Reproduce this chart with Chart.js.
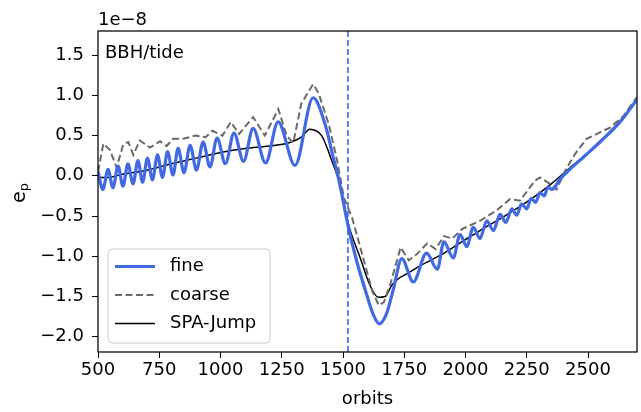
<!DOCTYPE html>
<html>
<head>
<meta charset="utf-8">
<script src="https://cdn.jsdelivr.net/npm/chart.js@4/dist/chart.umd.min.js"></script>
<style>
  html, body { margin: 0; padding: 0; background: #fff; }
  #chart { display: block; }
</style>
</head>
<body>
<canvas id="chart" width="641" height="412"></canvas>
<script>
// values, e_p in units of 1e-8
const fineOrbits = [500, 520, 541, 561, 582, 602, 622, 643, 663, 682, 702, 722, 743, 763, 784, 806, 827, 851, 876, 902,
    929, 957, 986, 1020, 1055, 1094, 1133, 1184, 1235, 1304, 1378, 1427, 1460, 1481, 1522, 1555, 1596, 1623, 1648, 1677,
    1704, 1740, 1787, 1841, 1885, 1912, 1950, 1978, 2005, 2032, 2059, 2087, 2114, 2141, 2165, 2189, 2209, 2229, 2250, 2268,
    2286, 2304, 2321, 2337, 2353, 2386, 2426, 2488, 2549, 2631, 2700];
const fineEp = [0.05, -0.17, 0.08, -0.15, 0.12, -0.13, 0.15, -0.10, 0.19, -0.08, 0.22, -0.05, 0.26, -0.02, 0.30, 0.01, 0.34, 0.04, 0.38, 0.07,
    0.42, 0.11, 0.47, 0.15, 0.53, 0.18, 0.59, 0.16, 0.67, 0.13, 0.97, 0.64, 0.23, -0.02, -0.64, -1.05, -1.47, -1.72, -1.84, -1.72,
    -1.43, -1.03, -1.32, -0.96, -1.16, -0.82, -1.02, -0.73, -0.88, -0.64, -0.78, -0.56, -0.68, -0.48, -0.58, -0.41, -0.49, -0.35, -0.41, -0.28,
    -0.33, -0.21, -0.25, -0.14, -0.17, -0.04, 0.08, 0.25, 0.42, 0.67, 0.95];

const coarseOrbits = [500, 522, 549, 576, 603, 624, 644, 671, 712, 753, 780, 807, 848, 898, 939, 967, 1008, 1042, 1076, 1133,
    1181, 1236, 1270, 1297, 1330, 1378, 1400, 1442, 1476, 1503, 1537, 1585, 1619, 1646, 1667, 1694, 1735, 1769, 1803, 1844,
    1878, 1912, 1946, 1987, 2059, 2127, 2181, 2222, 2284, 2304, 2345, 2372, 2406, 2447, 2494, 2549, 2590, 2644, 2700];
const coarseEp = [0.05, 0.40, 0.32, 0.10, 0.39, 0.42, 0.26, 0.44, 0.35, 0.43, 0.37, 0.46, 0.46, 0.50, 0.48, 0.56, 0.50, 0.67, 0.52, 0.73,
    0.50, 0.83, 0.50, 0.41, 0.90, 1.14, 1.03, 0.64, 0.19, -0.27, -0.52, -1.05, -1.43, -1.61, -1.57, -1.34, -0.89, -1.05, -0.97, -0.84,
    -0.91, -0.75, -0.78, -0.66, -0.56, -0.43, -0.29, -0.31, -0.06, -0.02, -0.10, -0.17, 0.06, 0.27, 0.46, 0.54, 0.60, 0.74, 0.98];

const spaOrbits = [500, 540, 600, 700, 800, 900, 1000, 1100, 1200, 1280, 1330, 1365, 1390, 1413, 1435, 1454, 1481, 1500, 1522, 1569,
    1610, 1644, 1672, 1699, 1730, 1760, 1814, 1896, 1980, 2059, 2160, 2263, 2350, 2426, 2490, 2549, 2631, 2700];
const spaEp = [-0.02, -0.02, 0.02, 0.07, 0.15, 0.22, 0.29, 0.34, 0.37, 0.41, 0.48, 0.58, 0.56, 0.50, 0.35, 0.19, -0.04, -0.30, -0.60, -1.01,
    -1.36, -1.51, -1.50, -1.36, -1.27, -1.22, -1.12, -0.99, -0.83, -0.68, -0.50, -0.30, -0.10, 0.10, 0.26, 0.43, 0.68, 0.95];

const resonanceOrbit = 1520;
const xTicks = [500, 750, 1000, 1250, 1500, 1750, 2000, 2250, 2500];
const yTicks = [-2.0, -1.5, -1.0, -0.5, 0.0, 0.5, 1.0, 1.5];
const xMin = 500, xMax = 2700, yMin = -2.19, yMax = 1.80;

const FONT = "'DejaVu Sans', sans-serif";
const BLUE = '#4169e1';

const pts = (xs, ys) => xs.map((x, i) => ({ x: x, y: ys[i] }));

const decor = {
    id: 'decor',
    afterDraw(c) {
        const ctx = c.ctx, a = c.chartArea;
        ctx.save();
        // frame
        ctx.strokeStyle = '#000';
        ctx.lineWidth = 1.25;
        ctx.strokeRect(a.left, a.top, a.right - a.left, a.bottom - a.top);

        ctx.fillStyle = '#000';
        ctx.textBaseline = 'alphabetic';
        ctx.textAlign = 'left';
        ctx.font = '18px ' + FONT;
        ctx.fillText('1e\u22128', a.left, 25);
        ctx.fillText('BBH/tide', a.left + 7, 58);

        // y label e_p
        ctx.save();
        ctx.translate(25, 203);
        ctx.rotate(-Math.PI / 2);
        ctx.font = '19px ' + FONT;
        ctx.fillText('e', 0, 0);
        const w = ctx.measureText('e').width;
        ctx.font = '13px ' + FONT;
        ctx.fillText('p', w, 3);
        ctx.restore();

        // legend
        const lx = 108, ly = 249, lw = 162, lh = 94;
        ctx.beginPath();
        ctx.roundRect(lx, ly, lw, lh, 4);
        ctx.fillStyle = 'rgba(255,255,255,0.8)';
        ctx.fill();
        ctx.strokeStyle = '#cccccc';
        ctx.lineWidth = 1;
        ctx.stroke();
        const rows = [266.5, 295, 323.5];
        c.data.datasets.slice(0, 3).forEach((ds, i) => {
            ctx.beginPath();
            ctx.setLineDash(ds.borderDash || []);
            ctx.strokeStyle = ds.borderColor;
            ctx.lineWidth = ds.borderWidth;
            ctx.moveTo(115, rows[i]);
            ctx.lineTo(155, rows[i]);
            ctx.stroke();
            ctx.setLineDash([]);
            ctx.fillStyle = '#000';
            ctx.font = '18px ' + FONT;
            ctx.textBaseline = 'middle';
            ctx.fillText(ds.label, 170, rows[i]);
        });
        ctx.restore();
    }
};

const chart = document.querySelector('#chart').getContext('2d');

new Chart(chart, {
    type: 'line',
    data: {
        datasets: [
            {
                label: 'fine',
                data: pts(fineOrbits, fineEp),
                borderColor: BLUE,
                borderWidth: 3.2,
                cubicInterpolationMode: 'monotone',
                pointRadius: 0
            },
            {
                label: 'coarse',
                data: pts(coarseOrbits, coarseEp),
                borderColor: '#6a6a6a',
                borderWidth: 2,
                borderDash: [7, 3.5],
                tension: 0,
                pointRadius: 0
            },
            {
                label: 'SPA-Jump',
                data: pts(spaOrbits, spaEp),
                borderColor: '#000',
                borderWidth: 1.5,
                cubicInterpolationMode: 'monotone',
                pointRadius: 0
            },
            {
                label: 'resonance',
                data: [{ x: resonanceOrbit, y: yMin }, { x: resonanceOrbit, y: yMax }],
                borderColor: BLUE,
                borderWidth: 1.6,
                borderDash: [6, 3],
                pointRadius: 0
            }
        ]
    },
    options: {
        responsive: false,
        animation: false,
        layout: { padding: { top: 31, right: 4, left: 0, bottom: 0 } },
        plugins: { legend: { display: false }, tooltip: { enabled: false } },
        scales: {
            x: {
                type: 'linear',
                min: xMin,
                max: xMax,
                afterBuildTicks: s => { s.ticks = xTicks.map(v => ({ value: v })); },
                afterFit: s => { s.height = 60; },
                grid: { drawOnChartArea: false, drawTicks: true, tickLength: 6, color: '#000' },
                border: { display: false },
                ticks: {
                    color: '#000',
                    font: { family: FONT, size: 18 },
                    padding: 2,
                    maxRotation: 0,
                    autoSkip: false,
                    callback: v => String(v)
                },
                title: {
                    display: true,
                    text: 'orbits',
                    color: '#000',
                    font: { family: FONT, size: 18 },
                    padding: { top: 0, bottom: 2 }
                }
            },
            y: {
                min: yMin,
                max: yMax,
                afterBuildTicks: s => { s.ticks = yTicks.map(v => ({ value: v })); },
                afterFit: s => { s.width = 98; },
                grid: { drawOnChartArea: false, drawTicks: true, tickLength: 6, color: '#000' },
                border: { display: false },
                ticks: {
                    color: '#000',
                    font: { family: FONT, size: 18 },
                    padding: 8,
                    autoSkip: false,
                    callback: v => v.toFixed(1).replace('-', '\u2212')
                }
            }
        }
    },
    plugins: [decor]
});
</script>
</body>
</html>
